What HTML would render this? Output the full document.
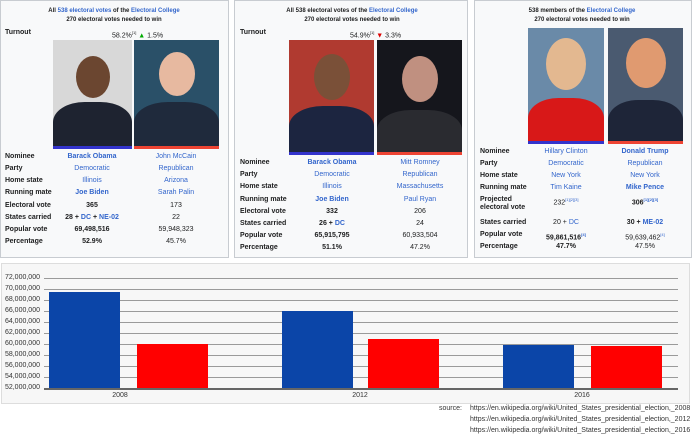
<!DOCTYPE html>
<html><head><meta charset="utf-8"><style>
body{margin:0;width:692px;height:437px;background:#fff;position:relative;overflow:hidden;font-family:"Liberation Sans",sans-serif;}
.p{position:absolute;background:#f8f9fa;border:1px solid #c8ccd1;}
.t{position:absolute;font-size:7px;color:#202122;white-space:nowrap;line-height:8px}
.b{font-weight:bold}
.l{color:#3366cc}
.c{transform:translateX(-50%)}
.ph{position:absolute;overflow:hidden}
.face{position:absolute;border-radius:50%}
.suit{position:absolute;border-radius:40% 40% 0 0}
.gl{position:absolute;left:44px;width:634px;height:1px;background:#9a9a9a}
.yl{position:absolute;right:652px;font-size:7px;color:#333;line-height:8px}
.bar{position:absolute}
</style></head><body>
<div class="p" style="left:0;top:0;width:227px;height:256px"></div>
<div class="p" style="left:234px;top:0;width:232px;height:256px"></div>
<div class="p" style="left:474px;top:0;width:216px;height:256px"></div>

<!-- panel 1 -->
<div class="t b c" style="left:114px;top:7px;font-size:6px">All <span class="l">538 electoral votes</span> of the <span class="l">Electoral College</span></div>
<div class="t b c" style="left:114px;top:16px;font-size:6px">270 electoral votes needed to win</div>
<div class="t b" style="left:5px;top:29px">Turnout</div>
<div class="t" style="left:112px;top:29px">58.2%<sup style="font-size:4px">[1]</sup> <span style="color:#0a0">▲</span> 1.5%</div>
<div class="ph" style="left:53px;top:40px;width:79px;height:106px;background:#d8d8d8"><div class="face" style="left:23px;top:16px;width:34px;height:42px;background:#6b4630"></div><div class="suit" style="left:0;top:62px;width:79px;height:50px;background:#1e2330"></div></div>
<div style="position:absolute;left:53px;top:146px;width:79px;height:3px;background:#3333cc"></div>
<div class="ph" style="left:134px;top:40px;width:85px;height:106px;background:#2a5068"><div class="face" style="left:25px;top:12px;width:36px;height:44px;background:#e7b9a0"></div><div class="suit" style="left:0;top:62px;width:85px;height:50px;background:#1f2a3c"></div></div>
<div style="position:absolute;left:134px;top:146px;width:85px;height:3px;background:#e43"></div>

<!-- panel 2 -->
<div class="t b c" style="left:352px;top:7px;font-size:6px">All 538 electoral votes of the <span class="l">Electoral College</span></div>
<div class="t b c" style="left:352px;top:16px;font-size:6px">270 electoral votes needed to win</div>
<div class="t b" style="left:240px;top:29px">Turnout</div>
<div class="t" style="left:350px;top:29px">54.9%<sup style="font-size:4px">[1]</sup> <span style="color:#d00">▼</span> 3.3%</div>
<div class="ph" style="left:289px;top:40px;width:85px;height:112px;background:#b03a30"><div class="face" style="left:25px;top:14px;width:36px;height:46px;background:#7a5038"></div><div class="suit" style="left:0;top:66px;width:85px;height:50px;background:#1c2540"></div></div>
<div style="position:absolute;left:289px;top:152px;width:85px;height:3px;background:#3333cc"></div>
<div class="ph" style="left:377px;top:40px;width:85px;height:112px;background:#15161c"><div class="face" style="left:25px;top:16px;width:36px;height:46px;background:#c09080"></div><div class="suit" style="left:0;top:70px;width:85px;height:50px;background:#2a2b30"></div></div>
<div style="position:absolute;left:377px;top:152px;width:85px;height:3px;background:#e43"></div>

<!-- panel 3 -->
<div class="t b c" style="left:582px;top:7px;font-size:6px">538 members of the <span class="l">Electoral College</span></div>
<div class="t b c" style="left:582px;top:16px;font-size:6px">270 electoral votes needed to win</div>
<div class="ph" style="left:528px;top:28px;width:76px;height:113px;background:#6a8aa8"><div class="face" style="left:18px;top:10px;width:40px;height:52px;background:#e3b890"></div><div class="suit" style="left:0;top:70px;width:76px;height:50px;background:#d81818"></div></div>
<div style="position:absolute;left:528px;top:141px;width:76px;height:3px;background:#3333cc"></div>
<div class="ph" style="left:608px;top:28px;width:75px;height:113px;background:#4a5a70"><div class="face" style="left:18px;top:10px;width:40px;height:50px;background:#e09a70"></div><div class="suit" style="left:0;top:72px;width:75px;height:50px;background:#1e2538"></div></div>
<div style="position:absolute;left:608px;top:141px;width:75px;height:3px;background:#e43"></div>

<!-- rows panel1 -->
<div class="t b" style="left:5px;top:153px">Nominee</div><div class="t b l c" style="left:92px;top:153px">Barack Obama</div><div class="t l c" style="left:176px;top:153px">John McCain</div>
<div class="t b" style="left:5px;top:165px">Party</div><div class="t l c" style="left:92px;top:165px">Democratic</div><div class="t l c" style="left:176px;top:165px">Republican</div>
<div class="t b" style="left:5px;top:177px">Home state</div><div class="t l c" style="left:92px;top:177px">Illinois</div><div class="t l c" style="left:176px;top:177px">Arizona</div>
<div class="t b" style="left:5px;top:189px">Running mate</div><div class="t b l c" style="left:92px;top:189px">Joe Biden</div><div class="t l c" style="left:176px;top:189px">Sarah Palin</div>
<div class="t b" style="left:5px;top:202px">Electoral vote</div><div class="t b c" style="left:92px;top:202px">365</div><div class="t c" style="left:176px;top:202px">173</div>
<div class="t b" style="left:5px;top:214px">States carried</div><div class="t b c" style="left:92px;top:214px">28 + <span class="l">DC</span> + <span class="l">NE-02</span></div><div class="t c" style="left:176px;top:214px">22</div>
<div class="t b" style="left:5px;top:226px">Popular vote</div><div class="t b c" style="left:92px;top:226px">69,498,516</div><div class="t c" style="left:176px;top:226px">59,948,323</div>
<div class="t b" style="left:5px;top:238px">Percentage</div><div class="t b c" style="left:92px;top:238px">52.9%</div><div class="t c" style="left:176px;top:238px">45.7%</div>

<!-- rows panel2 -->
<div class="t b" style="left:240px;top:159px">Nominee</div><div class="t b l c" style="left:332px;top:159px">Barack Obama</div><div class="t l c" style="left:420px;top:159px">Mitt Romney</div>
<div class="t b" style="left:240px;top:171px">Party</div><div class="t l c" style="left:332px;top:171px">Democratic</div><div class="t l c" style="left:420px;top:171px">Republican</div>
<div class="t b" style="left:240px;top:183px">Home state</div><div class="t l c" style="left:332px;top:183px">Illinois</div><div class="t l c" style="left:420px;top:183px">Massachusetts</div>
<div class="t b" style="left:240px;top:196px">Running mate</div><div class="t b l c" style="left:332px;top:196px">Joe Biden</div><div class="t l c" style="left:420px;top:196px">Paul Ryan</div>
<div class="t b" style="left:240px;top:208px">Electoral vote</div><div class="t b c" style="left:332px;top:208px">332</div><div class="t c" style="left:420px;top:208px">206</div>
<div class="t b" style="left:240px;top:220px">States carried</div><div class="t b c" style="left:332px;top:220px">26 + <span class="l">DC</span></div><div class="t c" style="left:420px;top:220px">24</div>
<div class="t b" style="left:240px;top:232px">Popular vote</div><div class="t b c" style="left:332px;top:232px">65,915,795</div><div class="t c" style="left:420px;top:232px">60,933,504</div>
<div class="t b" style="left:240px;top:244px">Percentage</div><div class="t b c" style="left:332px;top:244px">51.1%</div><div class="t c" style="left:420px;top:244px">47.2%</div>

<!-- rows panel3 -->
<div class="t b" style="left:480px;top:148px">Nominee</div><div class="t l c" style="left:566px;top:148px">Hillary Clinton</div><div class="t b l c" style="left:645px;top:148px">Donald Trump</div>
<div class="t b" style="left:480px;top:160px">Party</div><div class="t l c" style="left:566px;top:160px">Democratic</div><div class="t l c" style="left:645px;top:160px">Republican</div>
<div class="t b" style="left:480px;top:172px">Home state</div><div class="t l c" style="left:566px;top:172px">New York</div><div class="t l c" style="left:645px;top:172px">New York</div>
<div class="t b" style="left:480px;top:184px">Running mate</div><div class="t l c" style="left:566px;top:184px">Tim Kaine</div><div class="t b l c" style="left:645px;top:184px">Mike Pence</div>
<div class="t b" style="left:480px;top:196px">Projected<br>electoral vote</div><div class="t c" style="left:566px;top:196px">232<sup style="font-size:4px" class="l">[1][2][3]</sup></div><div class="t b c" style="left:645px;top:196px">306<sup style="font-size:4px" class="l">[1][2][3]</sup></div>
<div class="t b" style="left:480px;top:219px">States carried</div><div class="t c" style="left:566px;top:219px">20 + <span class="l">DC</span></div><div class="t b c" style="left:645px;top:219px">30 + <span class="l">ME-02</span></div>
<div class="t b" style="left:480px;top:231px">Popular vote</div><div class="t b c" style="left:566px;top:231px">59,861,516<sup style="font-size:4px" class="l">[4]</sup></div><div class="t c" style="left:645px;top:231px">59,639,462<sup style="font-size:4px" class="l">[4]</sup></div>
<div class="t b" style="left:480px;top:243px">Percentage</div><div class="t b c" style="left:566px;top:243px">47.7%</div><div class="t c" style="left:645px;top:243px">47.5%</div>

<!-- chart -->
<div style="position:absolute;left:1px;top:263px;width:687px;height:139px;background:#f7f7f7;border:1px solid #ddd"></div>
<div class="gl" style="top:278px"></div><div class="yl" style="top:274px">72,000,000</div>
<div class="gl" style="top:289px"></div><div class="yl" style="top:285px">70,000,000</div>
<div class="gl" style="top:300px"></div><div class="yl" style="top:296px">68,000,000</div>
<div class="gl" style="top:311px"></div><div class="yl" style="top:307px">66,000,000</div>
<div class="gl" style="top:322px"></div><div class="yl" style="top:318px">64,000,000</div>
<div class="gl" style="top:333px"></div><div class="yl" style="top:329px">62,000,000</div>
<div class="gl" style="top:344px"></div><div class="yl" style="top:340px">60,000,000</div>
<div class="gl" style="top:355px"></div><div class="yl" style="top:351px">58,000,000</div>
<div class="gl" style="top:366px"></div><div class="yl" style="top:362px">56,000,000</div>
<div class="gl" style="top:377px"></div><div class="yl" style="top:373px">54,000,000</div>
<div class="yl" style="top:384px">52,000,000</div>
<div class="bar" style="left:49px;top:292px;width:71px;height:96px;background:#0b45a8"></div>
<div class="bar" style="left:137px;top:344px;width:71px;height:44px;background:#f00"></div>
<div class="bar" style="left:282px;top:311px;width:71px;height:77px;background:#0b45a8"></div>
<div class="bar" style="left:368px;top:339px;width:71px;height:49px;background:#f00"></div>
<div class="bar" style="left:503px;top:345px;width:71px;height:43px;background:#0b45a8"></div>
<div class="bar" style="left:591px;top:346px;width:71px;height:42px;background:#f00"></div>
<div class="gl" style="top:388px;height:2px;background:#666"></div>
<div class="t c" style="left:120px;top:392px;color:#333">2008</div>
<div class="t c" style="left:360px;top:392px;color:#333">2012</div>
<div class="t c" style="left:582px;top:392px;color:#333">2016</div>
<div class="t" style="left:439px;top:405px;color:#333">source:</div>
<div class="t" style="left:470px;top:405px;color:#333">https://en.wikipedia.org/wiki/United_States_presidential_election,_2008</div>
<div class="t" style="left:470px;top:416px;color:#333">https://en.wikipedia.org/wiki/United_States_presidential_election,_2012</div>
<div class="t" style="left:470px;top:427px;color:#333">https://en.wikipedia.org/wiki/United_States_presidential_election,_2016</div>
</body></html>
